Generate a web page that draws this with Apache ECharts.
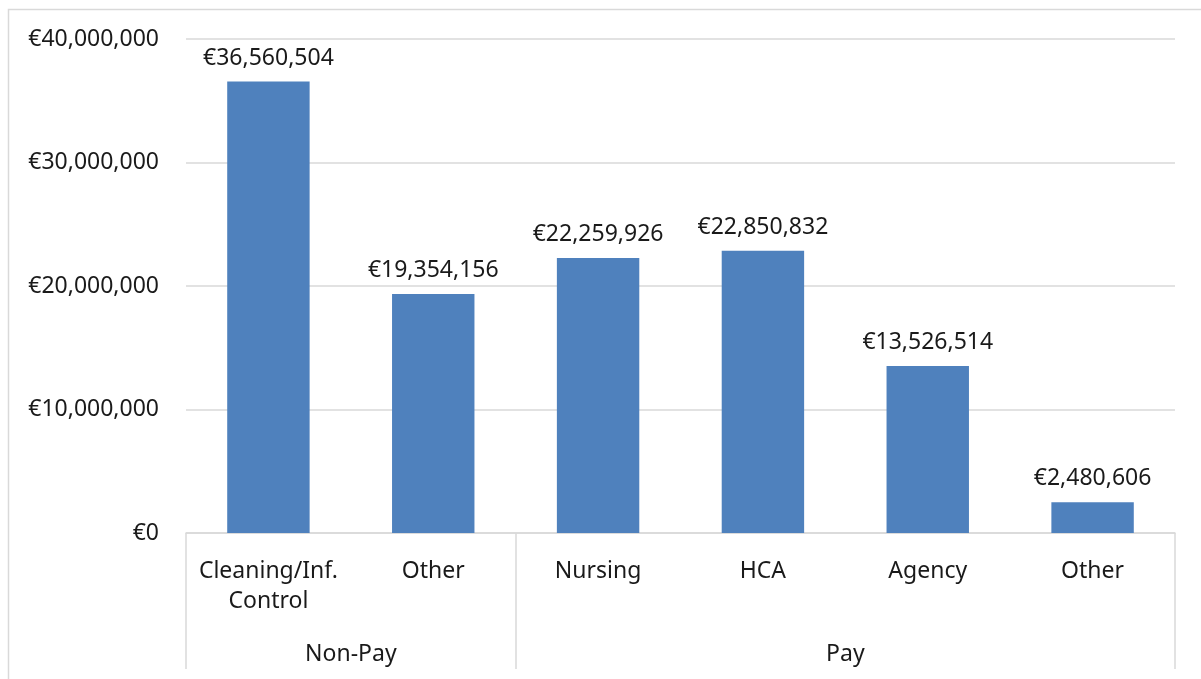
<!DOCTYPE html>
<html>
<head>
<meta charset="utf-8">
<title>Costs by category</title>
<script src="https://cdn.jsdelivr.net/npm/echarts@6.0.0/dist/echarts.min.js"></script>
<style>
  html, body { margin: 0; padding: 0; background: #fff; }
  #chart { width: 1201px; height: 679px; }
</style>
</head>
<body>
<div id="chart"></div>
<script>
// Inner level of the category axis, one per bar
var categories = ['Cleaning/Inf.\nControl', 'Other', 'Nursing', 'HCA', 'Agency', 'Other'];
var costs = [36560504, 19354156, 22259926, 22850832, 13526514, 2480606];

// Outer level: group names and how many bars each spans
var groupNames = ['Non-Pay', 'Pay'];
var groupSpans = [2, 4];

var yTicks = [0, 10000000, 20000000, 30000000, 40000000];

var FONT = '"Noto Sans", sans-serif';
var FONT_SIZE = 23;
var TEXT = '#1a1a1a';
var LINE = '#d9d9d9';

function euro(v) {
  return '\u20ac' + Number(v).toLocaleString('en-US');
}

// boundaries and centres of the outer groups, in bar units
var groupEdges = [0];
var groupCentres = [];
groupSpans.forEach(function(n) {
  var start = groupEdges[groupEdges.length - 1];
  groupCentres.push(start + n / 2);
  groupEdges.push(start + n);
});

var chart = echarts.init(document.getElementById('chart'), null, { renderer: 'canvas' });

chart.setOption({
  animation: false,
  textStyle: { fontFamily: FONT },
  graphic: [{
    type: 'rect',
    z: -10,
    shape: { x: 8.5, y: 9.5, width: 1300, height: 1000 },
    style: { fill: 'none', stroke: LINE, lineWidth: 1.5 }
  }],
  grid: { left: 186, right: 26, top: 39, bottom: 146 },
  xAxis: [{
    type: 'category',
    data: categories,
    axisLine: { show: true, lineStyle: { color: LINE, width: 1.5 } },
    axisTick: { show: false },
    axisLabel: {
      interval: 0,
      margin: 23,
      fontSize: FONT_SIZE,
      lineHeight: 30,
      color: TEXT,
      fontFamily: FONT
    }
  }, {
    type: 'value',
    position: 'bottom',
    min: 0,
    max: groupEdges[groupEdges.length - 1],
    axisLine: { show: false },
    splitLine: { show: false },
    axisTick: {
      show: true,
      customValues: groupEdges,
      length: 136,
      lineStyle: { color: LINE, width: 1.5 }
    },
    axisLabel: {
      customValues: groupCentres,
      margin: 110,
      fontSize: FONT_SIZE,
      color: TEXT,
      fontFamily: FONT,
      formatter: function(v) {
        var i = groupCentres.indexOf(v);
        return i >= 0 ? groupNames[i] : '';
      }
    }
  }],
  yAxis: {
    type: 'value',
    min: yTicks[0],
    max: yTicks[yTicks.length - 1],
    interval: yTicks[1] - yTicks[0],
    axisLine: { show: false },
    axisTick: { show: false },
    splitLine: { lineStyle: { color: LINE, width: 1.5 } },
    axisLabel: {
      margin: 27,
      fontSize: FONT_SIZE,
      color: TEXT,
      fontFamily: FONT,
      formatter: euro
    }
  },
  series: [{
    type: 'bar',
    xAxisIndex: 0,
    data: costs,
    barWidth: '50%',
    itemStyle: { color: '#4f81bd' },
    label: {
      show: true,
      position: 'top',
      distance: 12,
      fontSize: FONT_SIZE,
      color: TEXT,
      fontFamily: FONT,
      formatter: function(p) { return euro(p.value); }
    }
  }]
});
</script>
</body>
</html>
